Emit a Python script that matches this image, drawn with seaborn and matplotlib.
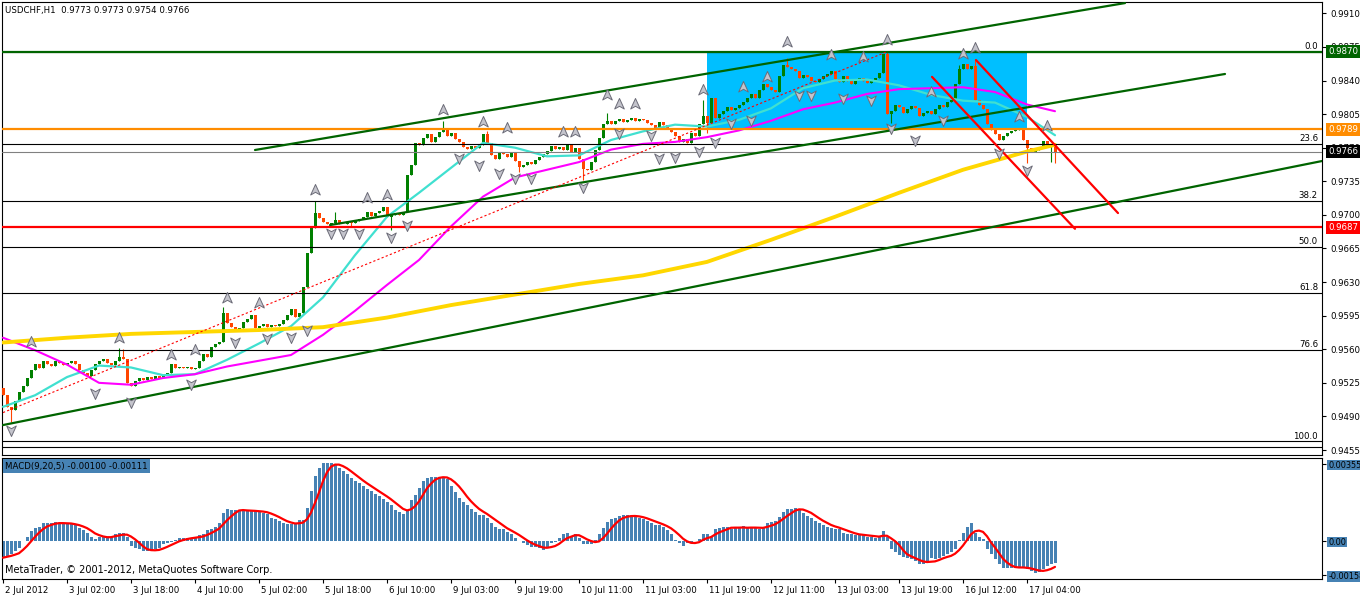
import numpy as np
import pandas as pd
import matplotlib
matplotlib.use('Agg')
import matplotlib.pyplot as plt
import matplotlib.transforms as mtransforms
from matplotlib.patches import Rectangle
from matplotlib.path import Path
import seaborn as sns

sns.set_style('white', {'axes.edgecolor': 'black', 'text.color': 'black',
                        'xtick.color': 'black', 'ytick.color': 'black'})
plt.rcParams['font.family'] = ['DejaVu Sans']
plt.rcParams['font.size'] = 6.2

# ---- hourly closes, USDCHF H1 (bar 0 = 2 Jul 2012) ----
first_open = 0.9520
close = [
    0.9512, 0.9500, 0.9497, 0.9506, 0.9515, 0.9522, 0.9530, 0.9538,
    0.9545, 0.9540, 0.9548, 0.9545, 0.9543, 0.9548, 0.9546, 0.9544,
    0.9546, 0.9548, 0.9545, 0.9538, 0.9535, 0.9532, 0.9538, 0.9545,
    0.9548, 0.9550, 0.9546, 0.9544, 0.9548, 0.9552, 0.9550, 0.9525,
    0.9522, 0.9527, 0.9530, 0.9528, 0.9531, 0.9529, 0.9532, 0.9530, 0.9533, 0.9535,
    0.9545, 0.9540, 0.9542, 0.9540, 0.9541, 0.9539, 0.9540,
    0.9548, 0.9555, 0.9552, 0.9562, 0.9565, 0.9568, 0.9598,
    0.9587, 0.9583, 0.9580, 0.9582, 0.9588, 0.9592, 0.9596, 0.9582, 0.9584,
    0.9586, 0.9583, 0.9585, 0.9584, 0.9586, 0.9590, 0.9596, 0.9602, 0.9594,
    0.9598, 0.9625, 0.9660, 0.9686, 0.9702,
    0.9697, 0.9693, 0.9690, 0.9692, 0.9695, 0.9691, 0.9690, 0.9693, 0.9692, 0.9694, 0.9696,
    0.9698, 0.9703, 0.9699, 0.9702, 0.9704, 0.9708, 0.9698, 0.9700, 0.9702, 0.9700, 0.9703,
    0.9742, 0.9752, 0.9775, 0.9773, 0.9780,
    0.9784, 0.9776, 0.9781, 0.9786, 0.9788, 0.9782, 0.9785, 0.9779, 0.9776,
    0.9771, 0.9769, 0.9772, 0.9770, 0.9773, 0.9784, 0.9775,
    0.9762, 0.9758, 0.9765, 0.9763, 0.9760, 0.9764, 0.9756, 0.9750, 0.9752, 0.9755, 0.9753, 0.9757,
    0.9760, 0.9763, 0.9767, 0.9772, 0.9769, 0.9771, 0.9768, 0.9773, 0.9765, 0.9770,
    0.9758, 0.9748, 0.9747, 0.9755,
    0.9768, 0.9780, 0.9795, 0.9798,
    0.9795, 0.9798, 0.9800, 0.9797, 0.9799, 0.9801, 0.9798, 0.9800, 0.9799, 0.9796, 0.9794, 0.9790, 0.9797, 0.9794,
    0.9790, 0.9786, 0.9782, 0.9776, 0.9779, 0.9775, 0.9785, 0.9782,
    0.9795, 0.9803, 0.9796, 0.9822, 0.9801, 0.9805, 0.9808, 0.9812, 0.9809, 0.9811, 0.9815,
    0.9818, 0.9822, 0.9826, 0.9822, 0.9830, 0.9836, 0.9833, 0.9830, 0.9828, 0.9845, 0.9856, 0.9854,
    0.9852, 0.9850, 0.9843, 0.9846, 0.9844, 0.9840, 0.9838, 0.9842, 0.9845,
    0.9847, 0.9850, 0.9842, 0.9838, 0.9845, 0.9840, 0.9836, 0.9841, 0.9843, 0.9839,
    0.9837, 0.9841, 0.9843, 0.9848, 0.9868, 0.9805,
    0.9808, 0.9815, 0.9812, 0.9806, 0.9810, 0.9813, 0.9811, 0.9803, 0.9806, 0.9808, 0.9805,
    0.9810, 0.9815, 0.9812, 0.9818, 0.9820, 0.9836, 0.9852, 0.9857, 0.9852, 0.9855,
    0.9820, 0.9815, 0.9810, 0.9795, 0.9788, 0.9784,
    0.9778, 0.9782, 0.9785, 0.9787, 0.9788, 0.9789, 0.9778, 0.9770,
    0.9765, 0.9768, 0.9771, 0.9777, 0.9772, 0.9773, 0.9766,
]
# notable wicks (bar index -> price)
wick_high = {29: 0.9561, 30: 0.9560, 55: 0.9604, 78: 0.9714, 83: 0.9703, 110: 0.9798,
             121: 0.9787, 151: 0.9806, 175: 0.9820, 196: 0.9863, 221: 0.9871,
             239: 0.9856, 243: 0.9862}
wick_low = {2: 0.9484, 87: 0.9687, 97: 0.9684, 129: 0.9745, 145: 0.9736, 176: 0.9785,
            222: 0.9796, 256: 0.9754, 262: 0.9755, 263: 0.9754}

# ---- moving averages read at nodes ----
ma_idx = list(range(0, 257, 8)) + [263]
ma_fast = [0.9500, 0.9512, 0.9531, 0.9543, 0.9541, 0.9533, 0.9534, 0.9549, 0.9566, 0.9584,
           0.9614, 0.9658, 0.9698, 0.9723, 0.9749, 0.9775, 0.9770, 0.9761, 0.9762, 0.9778,
           0.9787, 0.9794, 0.9792, 0.9799, 0.9811, 0.9832, 0.9840, 0.9841, 0.9835, 0.9825,
           0.9819, 0.9817, 0.9802, 0.9783]
ma_mid = [0.9572, 0.9559, 0.9544, 0.9525, 0.9523, 0.9530, 0.9534, 0.9542, 0.9548, 0.9554,
          0.9575, 0.9600, 0.9627, 0.9653, 0.9688, 0.9719, 0.9739, 0.9747, 0.9755, 0.9768,
          0.9774, 0.9776, 0.9781, 0.9788, 0.9798, 0.9810, 0.9817, 0.9826, 0.9831, 0.9832,
          0.9833, 0.9828, 0.9815, 0.9808]
slow_idx = list(range(0, 257, 16)) + [263]
ma_slow = [0.9567, 0.9572, 0.9576, 0.9578, 0.9580, 0.9583, 0.9593, 0.9606, 0.9617, 0.9628,
           0.9637, 0.9651, 0.9674, 0.9698, 0.9723, 0.9747, 0.9766, 0.9773]

# ---- fractals (bar index, price) ----
frac_up_i = [7, 29, 42, 48, 56, 64, 78, 91, 96, 110, 120, 126, 140, 143, 151, 154, 158,
             175, 185, 191, 196, 207, 215, 221, 232, 240, 243, 254, 261]
frac_up_p = [0.9568, 0.9572, 0.9554, 0.9559, 0.9613, 0.9608, 0.9726, 0.9718, 0.9721, 0.9809,
             0.9797, 0.9790, 0.9786, 0.9786, 0.9825, 0.9816, 0.9816, 0.9830, 0.9833, 0.9844,
             0.9880, 0.9867, 0.9864, 0.9882, 0.9828, 0.9868, 0.9874, 0.9802, 0.9793]
frac_dn_i = [2, 23, 32, 47, 58, 66, 72, 76, 82, 85, 89, 97, 101, 114, 119, 124, 128, 132,
             145, 154, 162, 164, 168, 174, 178, 182, 187, 199, 202, 210, 217, 222, 228, 235,
             249, 256]
frac_dn_p = [0.9476, 0.9514, 0.9505, 0.9524, 0.9568, 0.9572, 0.9573, 0.9580, 0.9681, 0.9681,
             0.9681, 0.9677, 0.9689, 0.9759, 0.9752, 0.9744, 0.9738, 0.9738, 0.9729, 0.9785,
             0.9783, 0.9759, 0.9760, 0.9767, 0.9776, 0.9796, 0.9799, 0.9825, 0.9825, 0.9822,
             0.9820, 0.9790, 0.9778, 0.9799, 0.9764, 0.9747]

# ---- objects: horizontal levels, trendlines, fibo, rectangle ----
level_green, level_orange, level_red, bid = 0.9870, 0.9789, 0.9687, 0.9766
fib_high, fib_low = 0.9870, 0.9464
fib_ratios = [0.0, 23.6, 38.2, 50.0, 61.8, 76.6, 100.0]
extra_level = 0.9458
green_lines = [((63.0, 0.97676), (280.5, 0.99207)),
               ((81.75, 0.96894), (305.5, 0.98468)),
               ((0.0, 0.94810), (329.75, 0.97561))]
red_lines = [((232.25, 0.98438), (268.0, 0.96855)),
             ((243.25, 0.98613), (278.75, 0.97019))]
dotted_line = ((0.0, 0.9494), (221.0, 0.9870))
box_bars, box_prices = (176, 256), (0.9789, 0.9870)

# ---- MACD(9,20,5) main values ----
macd = [
    -0.00077, -0.00069, -0.00060, -0.00046, -0.00030, 0.00000, 0.00020, 0.00046, 0.00060, 0.00066,
    0.00081, 0.00081, 0.00081, 0.00088, 0.00081, 0.00081, 0.00077, 0.00077, 0.00072, 0.00060,
    0.00050, 0.00038, 0.00020, 0.00008, 0.00020, 0.00020, 0.00020, 0.00020, 0.00030, 0.00038,
    0.00038, 0.00020, -0.00023, -0.00034, -0.00038, -0.00046, -0.00046, -0.00046, -0.00038, -0.00030,
    -0.00015, -0.00008, -0.00003, 0.00005, 0.00012, 0.00015, 0.00015, 0.00015, 0.00018, 0.00026,
    0.00030, 0.00050, 0.00057, 0.00066, 0.00081, 0.00128, 0.00146, 0.00143, 0.00143, 0.00143,
    0.00138, 0.00138, 0.00138, 0.00138, 0.00135, 0.00130, 0.00123, 0.00108, 0.00100, 0.00092,
    0.00081, 0.00077, 0.00077, 0.00077, 0.00097, 0.00097, 0.00154, 0.00230, 0.00300, 0.00338,
    0.00358, 0.00358, 0.00358, 0.00349, 0.00338, 0.00323, 0.00307, 0.00292, 0.00277, 0.00266,
    0.00254, 0.00241, 0.00230, 0.00215, 0.00207, 0.00195, 0.00180, 0.00164, 0.00141, 0.00134,
    0.00123, 0.00143, 0.00189, 0.00211, 0.00246, 0.00277, 0.00292, 0.00297, 0.00297, 0.00292,
    0.00292, 0.00287, 0.00254, 0.00226, 0.00200, 0.00180, 0.00164, 0.00146, 0.00134, 0.00118,
    0.00118, 0.00108, 0.00081, 0.00066, 0.00054, 0.00054, 0.00041, 0.00030, 0.00015, 0.00000,
    -0.00008, -0.00020, -0.00026, -0.00029, -0.00034, -0.00041, -0.00026, -0.00011, -0.00005, 0.00015,
    0.00030, 0.00035, 0.00023, 0.00030, 0.00015, -0.00015, -0.00015, -0.00015, 0.00005, 0.00030,
    0.00060, 0.00088, 0.00100, 0.00108, 0.00115, 0.00118, 0.00118, 0.00115, 0.00111, 0.00106,
    0.00100, 0.00091, 0.00081, 0.00075, 0.00072, 0.00066, 0.00050, 0.00030, 0.00005, -0.00008,
    -0.00023, -0.00011, -0.00005, 0.00000, 0.00011, 0.00030, 0.00030, 0.00020, 0.00057, 0.00060,
    0.00065, 0.00066, 0.00057, 0.00060, 0.00060, 0.00069, 0.00060, 0.00060, 0.00060, 0.00057,
    0.00066, 0.00081, 0.00088, 0.00092, 0.00112, 0.00134, 0.00149, 0.00149, 0.00154, 0.00143,
    0.00130, 0.00115, 0.00108, 0.00092, 0.00081, 0.00072, 0.00066, 0.00060, 0.00057, 0.00054,
    0.00038, 0.00030, 0.00030, 0.00026, 0.00030, 0.00026, 0.00020, 0.00020, 0.00015, 0.00020,
    0.00046, 0.00020, -0.00038, -0.00051, -0.00066, -0.00072, -0.00077, -0.00085, -0.00092, -0.00108,
    -0.00108, -0.00092, -0.00077, -0.00085, -0.00077, -0.00069, -0.00061, -0.00051, -0.00035, 0.00005,
    0.00038, 0.00066, 0.00081, 0.00035, 0.00020, 0.00008, -0.00035, -0.00061, -0.00081, -0.00108,
    -0.00123, -0.00123, -0.00123, -0.00123, -0.00118, -0.00123, -0.00131, -0.00138, -0.00146, -0.00143,
    -0.00131, -0.00115, -0.00108, -0.00100,
]

time_tick_idx = list(range(0, 257, 16))
time_labels = ['2 Jul 2012', '3 Jul 02:00', '3 Jul 18:00', '4 Jul 10:00', '5 Jul 02:00',
               '5 Jul 18:00', '6 Jul 10:00', '9 Jul 03:00', '9 Jul 19:00', '10 Jul 11:00',
               '11 Jul 03:00', '11 Jul 19:00', '12 Jul 11:00', '13 Jul 03:00', '13 Jul 19:00',
               '16 Jul 12:00', '17 Jul 04:00']
price_ticks = [0.9455 + 0.0035 * k for k in range(14)]

# colours
C_UP, C_DN = '#008000', '#ff4500'
C_DKGREEN = '#006400'

fig = plt.figure(figsize=(13.6, 5.96), dpi=100)
fig.patch.set_facecolor('white')
ax = fig.add_axes([2 / 1360, 141 / 596, 1320 / 1360, 453 / 596])
ax2 = fig.add_axes([2 / 1360, 17 / 596, 1320 / 1360, 121.5 / 596])

# ---------------- main price panel ----------------
n = len(close)
idx = np.arange(n)
c = np.array(close)
o = np.r_[first_open, c[:-1]]
hi = np.maximum(o, c)
lo = np.minimum(o, c)
for k, v in wick_high.items():
    hi[k] = max(hi[k], v)
for k, v in wick_low.items():
    lo[k] = min(lo[k], v)
up = c >= o
colors = np.where(up, C_UP, C_DN)
body_h = np.maximum(np.abs(c - o), 0.00006)

ax.add_patch(Rectangle((box_bars[0], box_prices[0]), box_bars[1] - box_bars[0],
                       box_prices[1] - box_prices[0], facecolor='#00bfff',
                       edgecolor='none', zorder=1))

ax.vlines(idx, lo, hi, colors=colors, linewidth=0.8, zorder=3)
ax.bar(idx, body_h, bottom=np.minimum(o, c), width=0.75, color=colors,
       linewidth=0, zorder=3)

ma_df = pd.DataFrame({'bar': ma_idx, 'fast': ma_fast, 'mid': ma_mid})
sns.lineplot(data=ma_df, x='bar', y='fast', ax=ax, color='#40e0d0', linewidth=1.6, zorder=4)
sns.lineplot(data=ma_df, x='bar', y='mid', ax=ax, color='#ff00ff', linewidth=1.5, zorder=4)
sns.lineplot(x=slow_idx, y=ma_slow, ax=ax, color='#ffd700', linewidth=2.8, zorder=4)

# fibo levels
tr = mtransforms.blended_transform_factory(ax.transAxes, ax.transData)
for r in fib_ratios:
    lvl = fib_high - r / 100 * (fib_high - fib_low)
    ax.axhline(lvl, color='black', linewidth=0.8, zorder=5)
    ax.text(1 - 4 / 1320, lvl + 0.00008, f'{r:.1f}', transform=tr, ha='right',
            va='bottom', fontsize=6.2, zorder=6)
ax.axhline(extra_level, color='black', linewidth=0.8, zorder=5)

ax.axhline(bid, color='#808080', linewidth=0.8, zorder=5)
ax.axhline(level_green, color=C_DKGREEN, linewidth=1.6, zorder=5)
ax.axhline(level_orange, color='#ff8c00', linewidth=1.6, zorder=5)
ax.axhline(level_red, color='#ff0000', linewidth=1.6, zorder=5)

for (x0, y0), (x1, y1) in green_lines:
    ax.plot([x0, x1], [y0, y1], color=C_DKGREEN, linewidth=1.6, zorder=5)
for (x0, y0), (x1, y1) in red_lines:
    ax.plot([x0, x1], [y0, y1], color='#ff0000', linewidth=1.6, zorder=5)
(x0, y0), (x1, y1) = dotted_line
ax.plot([x0, x1], [y0, y1], color='#ff0000', linewidth=0.8, linestyle=(0, (2, 2)), zorder=5)

# fractal arrows
up_arrow = Path([(0, 1), (0.8, -0.75), (0, -0.3), (-0.8, -0.75), (0, 1)],
                [Path.MOVETO, Path.LINETO, Path.LINETO, Path.LINETO, Path.CLOSEPOLY])
dn_arrow = Path([(0, -1), (0.8, 0.75), (0, 0.3), (-0.8, 0.75), (0, -1)],
                [Path.MOVETO, Path.LINETO, Path.LINETO, Path.LINETO, Path.CLOSEPOLY])
ax.scatter(frac_up_i, frac_up_p, marker=up_arrow, s=75, facecolor='#c4c4cc',
           edgecolor='#6c6c78', linewidths=0.7, zorder=6)
ax.scatter(frac_dn_i, frac_dn_p, marker=dn_arrow, s=75, facecolor='#c4c4cc',
           edgecolor='#6c6c78', linewidths=0.7, zorder=6)

ax.set_xlim(-0.25, 329.75)
ax.set_ylim(0.94498, 0.99218)
ax.set_xticks([])
ax.set_xlabel('')
ax.set_ylabel('')
ax.yaxis.tick_right()
ax.set_yticks(price_ticks)
ax.set_yticklabels([f'{t:.4f}' for t in price_ticks])
ax.tick_params(axis='y', direction='out', length=3, width=0.8, pad=3, labelsize=6.2,
               left=False, right=True)

for price, col in [(level_green, C_DKGREEN), (level_orange, '#ff8c00'),
                   (bid, '#000000'), (level_red, '#ff0000')]:
    ax.text(1.0045, price, f'{price:.4f}', transform=tr, color='white', ha='left',
            va='center', fontsize=6.2, clip_on=False, zorder=10,
            bbox=dict(boxstyle='square,pad=0.25', facecolor=col, edgecolor='none'))

ax.text(3 / 1320, 0.982, 'USDCHF,H1  0.9773 0.9773 0.9754 0.9766', transform=ax.transAxes,
        ha='left', va='center', fontsize=6.2, zorder=10)

# ---------------- MACD panel ----------------
signal = pd.Series(macd).rolling(5, min_periods=1).mean()
ax2.bar(idx, macd, width=0.75, color='#4682b4', linewidth=0, zorder=2)
sns.lineplot(x=idx, y=signal.values, ax=ax2, color='#ff0000', linewidth=1.6, zorder=3)
ax2.set_xlim(-0.25, 329.75)
ax2.set_ylim(-0.001752, 0.00385)
ax2.set_xlabel('')
ax2.set_ylabel('')
ax2.yaxis.tick_right()
ax2.set_yticks([-0.00158, 0.0, 0.00355])
ax2.set_yticklabels(['-0.00158', '0.00', '0.00355'])
ax2.tick_params(axis='y', direction='out', length=3, width=0.8, pad=1.5, labelsize=5.9,
                left=False, right=True)
for lbl in ax2.get_yticklabels():
    lbl.set_bbox(dict(boxstyle='square,pad=0.1', facecolor='#4682b4', edgecolor='none'))

ax2.set_xticks(time_tick_idx)
ax2.set_xticklabels(time_labels)
ax2.tick_params(axis='x', direction='out', length=3, width=0.8, pad=2, labelsize=6.2,
                bottom=True)
shift = mtransforms.ScaledTranslation(2 / 100, 0, fig.dpi_scale_trans)
for lbl in ax2.get_xticklabels():
    lbl.set_horizontalalignment('left')
    lbl.set_transform(lbl.get_transform() + shift)

ax2.text(3 / 1320, 1 - 4 / 121.5, 'MACD(9,20,5) -0.00100 -0.00111', transform=ax2.transAxes,
         ha='left', va='top', fontsize=6.2, zorder=10,
         bbox=dict(boxstyle='square,pad=0.25', facecolor='#4682b4', edgecolor='none'))
ax2.text(3 / 1320, 0.075, 'MetaTrader, \u00a9 2001-2012, MetaQuotes Software Corp.',
         transform=ax2.transAxes, ha='left', va='center', fontsize=7, zorder=10)

for a in (ax, ax2):
    a.grid(False)
    a.set_facecolor('white')
    for sp in a.spines.values():
        sp.set_color('black')
        sp.set_linewidth(0.8)
        sp.set_visible(True)

fig.savefig('out.png', dpi=100, facecolor='white')
